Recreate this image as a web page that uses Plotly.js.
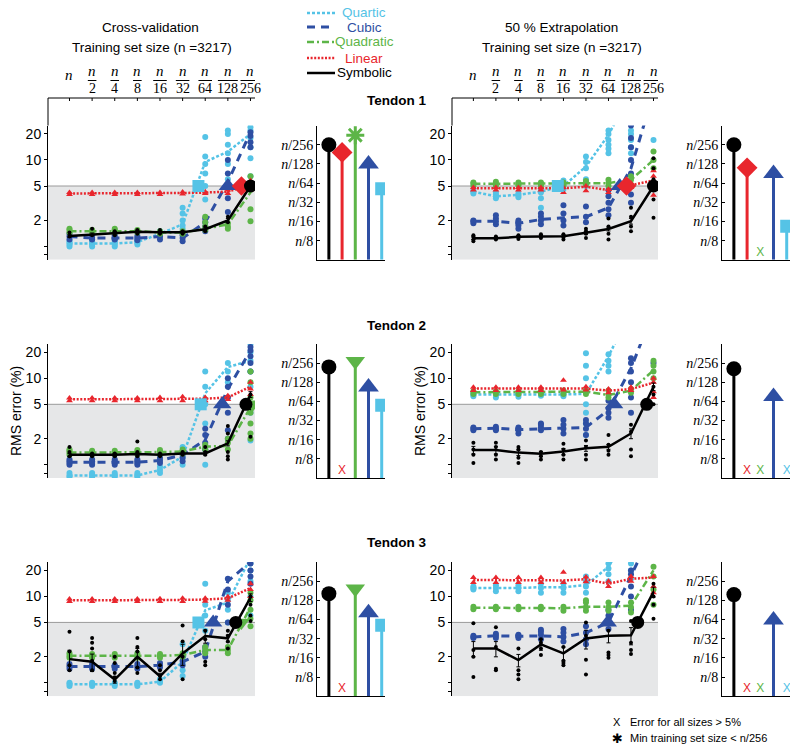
<!DOCTYPE html>
<html><head><meta charset="utf-8">
<script src="https://cdn.plot.ly/plotly-3.0.1.min.js"></script>
<style>html,body{margin:0;padding:0;background:#fff}#chart{width:800px;height:752px}</style>
</head><body><div id="chart"></div>
<script>
// ---------------- DATA ----------------
const sizeLabels = ['n','n/2','n/4','n/8','n/16','n/32','n/64','n/128','n/256'];
const sizeDenominators = ['', '2','4','8','16','32','64','128','256'];
const sizeIndex = [1,2,3,4,5,6,7,8,9];
const stemTickLabels = ['n/8','n/16','n/32','n/64','n/128','n/256'];
const stemModels = ['symbolic','linear','quadratic','cubic','quartic'];
const legendNames = ['Quartic','Cubic','Quadratic','Linear','Symbolic'];
const tendonNames = ['Tendon 1','Tendon 2','Tendon 3'];
const columnTitles = ['Cross-validation','50 % Extrapolation'];
const subTitle = 'Training set size (n =3217)';
const yTickVals = [0.8,1,2,5,10,20];
const yTickText = ['','','2','5','10','20'];
const errorLimit = 5;

// Tendon 1 - cross-validation
const cv1_quartic = [1.08,1.08,1.08,1.12,1.40,1.80,9.5,12.5,20];
const cv1_quartic_pts = [[1.0,1.05,1.1,1.15],[1.0,1.05,1.1,1.15],[1.0,1.05,1.12,1.18],[1.05,1.1,1.15,1.22],[1.3,1.38,1.45,1.5],[1.6,1.75,2.0,2.4,2.8],[3.5,5,7,9,11,18.5],[6,9,12,15,20,22],[6.5,10.5,14,18,22,24]];
const cv1_cubic = [1.30,1.25,1.25,1.25,1.30,1.25,1.9,5.6,21];
const cv1_cubic_pts = [[1.2,1.3,1.4],[1.2,1.25,1.35],[1.2,1.25,1.35],[1.18,1.25,1.32],[1.2,1.3,1.4],[1.15,1.25,1.35],[1.5,1.7,1.9,2.1],[2.5,3.6,5,7,10],[14,16,19,21]];
const cv1_quadratic = [1.5,1.5,1.5,1.5,1.45,1.45,1.6,1.8,4.2];
const cv1_quadratic_pts = [[1.45,1.55,1.6],[1.45,1.5,1.55],[1.45,1.55,1.6],[1.45,1.5,1.55],[1.4,1.45,1.5],[1.4,1.45,1.5],[1.55,1.7,1.9,2.2],[1.6,1.7,1.85],[1.95,2.7,4.5,5.5,6.5]];
const cv1_linear = [4.1,4.1,4.1,4.1,4.1,4.15,4.2,4.3,5.2];
const cv1_linear_pts = [[4.0,4.2],[4.0,4.2],[4.0,4.2],[4.0,4.2],[4.0,4.2],[4.05,4.25],[4.1,4.3],[4.1,4.5],[4.5,5.0,5.8]];
const cv1_symbolic = [1.32,1.38,1.42,1.48,1.46,1.46,1.58,2.0,5.0];
const cv1_symbolic_pts = [[1.3,1.45],[1.35,1.6],[1.35,1.5],[1.4,1.55],[1.4,1.55],[1.4,1.5],[1.5,1.7],[1.9,2.2],[4.5,5.5]];
const cv1_symbolic_err = [0.05,0.05,0.05,0.05,0.05,0.05,0.06,0.1,0.3];
const cv1_stem = [6,5.6,6.5,5,3.7];
const cv1_status = ['ok','ok','lt','ok','ok'];

// Tendon 1 - extrapolation
const ex1_quartic = [4.3,3.8,3.95,4.3,5.0,8.4,19.5,60,80];
const ex1_quartic_pts = [[4.1,4.3,4.5],[3.6,3.8,4.0,4.2],[3.7,3.9,4.1],[2.8,3.6,4.2,4.5],[4.6,5.0,5.4,5.8],[5.0,6,8,9.5,11],[12,13.5,15,17,20,22],[12,14,17,20,22],[17]];
const ex1_cubic = [1.95,1.95,1.85,2.05,2.15,2.2,2.8,8,60];
const ex1_cubic_pts = [[1.85,1.95,2.0],[1.8,1.95,2.1,2.3],[1.6,1.75,1.9,2.0],[1.8,2.0,2.2,2.4],[1.75,2.0,2.4,3.0],[1.9,2.2,2.9],[2.3,2.7,3.2,3.8,4.5],[3.2,4,7,10,14,18,25],[]];
const ex1_quadratic = [5.3,5.3,5.3,5.3,5.3,5.4,5.4,5.9,10];
const ex1_quadratic_pts = [[5.0,5.3,5.5],[5.0,5.3,5.6],[5.1,5.3,5.5],[5.0,5.3,5.5],[5.1,5.3,5.5],[5.2,5.5,5.7],[5.0,5.4,5.9],[5.2,5.9,6.5],[8,10,12.5]];
const ex1_linear = [4.7,4.7,4.7,4.7,4.7,4.9,4.5,5.1,5.8];
const ex1_linear_pts = [[4.5,4.8],[4.5,4.8],[4.5,4.8],[4.5,4.8],[4.2,4.8],[4.4,5.0],[4.2,4.6],[4.8,5.4],[3.9,5.0,6.5,7.5]];
const ex1_symbolic = [1.24,1.24,1.29,1.31,1.31,1.44,1.59,1.96,5.0];
const ex1_symbolic_pts = [[1.15,1.2,1.3,1.35],[1.2,1.25,1.3],[1.22,1.3,1.35],[1.25,1.32,1.38],[1.2,1.3,1.38],[1.25,1.4,1.5,1.6],[1.2,1.4,1.7,2.1],[1.5,1.7,2.2,2.8],[2.15,3.5,6,8,10.5]];
const ex1_symbolic_err = [0.04,0.04,0.04,0.04,0.05,0.06,0.08,0.15,0.4];
const ex1_stem = [6,4.8,null,4.5,1.75];
const ex1_status = ['ok','ok','x','ok','ok'];

// Tendon 2 - cross-validation
const cv2_quartic = [0.75,0.75,0.75,0.75,0.87,1.24,6.7,13.5,16];
const cv2_quartic_pts = [[0.72,0.75,0.8],[0.72,0.76,0.8],[0.72,0.76,0.8],[0.72,0.76,0.8],[0.8,0.87,0.95],[1.0,1.2,1.4,1.6],[1.0,1.5,3,5,8,12],[6,9,12,15],[1.9,4,8,12,16,20,25]];
const cv2_cubic = [1.07,1.07,1.07,1.07,1.12,1.3,1.94,7.5,21];
const cv2_cubic_pts = [[1.0,1.05,1.1,1.15],[1.0,1.05,1.1,1.15],[1.0,1.05,1.1,1.15],[1.0,1.05,1.1,1.15],[1.05,1.12,1.2],[1.1,1.2,1.3,1.4],[1.5,1.8,2.2,2.6],[2.0,2.5,4,6,8,10],[12,15,18,21,23]];
const cv2_quadratic = [1.38,1.38,1.38,1.4,1.4,1.42,1.62,1.65,4.6];
const cv2_quadratic_pts = [[1.3,1.38,1.45,1.5],[1.32,1.38,1.45],[1.32,1.38,1.45],[1.32,1.4,1.48],[1.32,1.4,1.48],[1.35,1.42,1.5],[1.5,1.6,1.7],[1.5,1.8,2.0],[2.0,2.3,3,4,6,9,12]];
const cv2_linear = [5.7,5.7,5.7,5.7,5.75,5.8,5.8,6.0,8.0];
const cv2_linear_pts = [[5.5,5.9],[5.5,5.9],[5.5,5.9],[5.5,5.9],[5.5,6.0],[5.5,6.1],[5.5,6.0],[5.7,6.3],[6.5,7.5,9]];
const cv2_symbolic = [1.3,1.3,1.3,1.33,1.3,1.35,1.35,1.77,6.5];
const cv2_symbolic_pts = [[1.25,1.4,1.6],[1.25,1.35],[1.25,1.35],[1.25,1.4,1.85],[1.25,1.35],[1.3,1.4],[1.3,1.4,1.6],[1.15,1.25,1.4,2.3,2.8],[2.1,4.5,6.5]];
const cv2_symbolic_err = [0.05,0.05,0.05,0.06,0.05,0.05,0.06,0.12,0.5];
const cv2_stem = [5.8,null,6.1,4.75,3.8];
const cv2_status = ['ok','x','ok','ok','ok'];

// Tendon 2 - extrapolation
const ex2_quartic = [6.5,6.5,6.4,6.5,6.5,6.6,18,60,80];
const ex2_quartic_pts = [[6.2,6.5,6.8],[6.0,6.4,6.8],[6.1,6.5,6.8],[6.3,6.6,6.8],[6.2,6.5,6.9],[2.2,3,4,5,7,10,14,19.5],[12,14,16,19],[],[]];
const ex2_cubic = [2.6,2.65,2.55,2.6,2.65,2.7,4.3,13,60];
const ex2_cubic_pts = [[2.5,2.6,2.7],[2.5,2.6,2.75],[2.3,2.5,2.6,2.7],[2.5,2.7,2.9,3.0],[2.3,2.6,2.9,3.3],[2.2,2.6,3.0,3.3],[3.5,4,4.5,5.5],[4.0,6,9,12,15,17],[15]];
const ex2_quadratic = [6.9,6.9,6.9,6.9,7.0,7.0,6.4,7.2,12.4];
const ex2_quadratic_pts = [[6.6,7.1],[6.6,7.1],[6.6,7.1],[6.6,7.1],[6.6,7.2],[6.6,7.3],[6.0,6.5,7.2],[6.8,7.5],[10,12,14,16]];
const ex2_linear = [7.6,7.6,7.5,7.5,7.6,7.6,7.2,7.5,8.9];
const ex2_linear_pts = [[7.2,7.9],[7.2,7.9],[7.2,7.9],[7.2,7.9],[7.3,9.5],[7.3,8.0],[6.8,7.5],[7.2,7.9],[6,7,9,10]];
const ex2_symbolic = [1.48,1.48,1.38,1.34,1.42,1.55,1.61,2.3,8.0];
const ex2_symbolic_pts = [[1.05,1.3,1.5,1.8],[1.15,1.3,1.6,1.8],[1.05,1.2,1.5,1.6],[1.15,1.25,1.4],[1.15,1.3,1.5,1.75],[1.15,1.3,1.6,1.9],[1.3,1.45,1.7,2.2],[1.25,1.5,2.4,2.9],[5,6.5,8]];
const ex2_symbolic_err = [0.15,0.15,0.1,0.08,0.12,0.12,0.1,0.3,0.8];
const ex2_stem = [5.7,null,null,4.25,null];
const ex2_status = ['ok','x','x','ok','x'];

// Tendon 3 - cross-validation
const cv3_quartic = [0.96,0.96,0.96,0.96,1.03,1.75,6.9,8.5,28];
const cv3_quartic_pts = [[0.92,0.97,1.0],[0.92,0.97,1.0],[0.92,0.97,1.0],[0.92,0.97,1.0],[1.0,1.05,1.1],[1.2,1.4,1.7,2.0,2.8],[2.5,4,6,8,14],[5,7,9,11],[6,10,15,20,24]];
const cv3_cubic = [1.54,1.54,1.54,1.54,1.6,1.75,2.3,15,25];
const cv3_cubic_pts = [[1.45,1.55,1.65],[1.45,1.55,1.65],[1.45,1.55,1.6],[1.45,1.55,1.65],[1.5,1.6,1.7],[1.6,1.8,2.0],[2.0,2.3,2.6],[5,8,12,16],[14,17,20,24]];
const cv3_quadratic = [2.05,2.05,2.05,2.05,2.05,2.1,2.4,2.4,7.5];
const cv3_quadratic_pts = [[1.95,2.05,2.2],[1.95,2.05,2.15],[1.95,2.05,2.15],[1.95,2.05,2.2],[1.95,2.05,2.15],[2.0,2.1,2.2],[2.2,2.4,2.6],[2.2,2.4,2.6],[4.5,5.5,7,9,11]];
const cv3_linear = [9,9,9,9,9.1,9.1,9.2,9.5,12.5];
const cv3_linear_pts = [[8.7,9.3],[8.7,9.3],[8.7,9.3],[8.7,9.3],[8.7,9.4],[8.7,9.5],[8.8,9.5],[9.0,9.9],[10,12,14]];
const cv3_symbolic = [1.88,1.75,1.09,2.0,1.19,2.19,3.47,3.27,9.7];
const cv3_symbolic_pts = [[1.4,1.6,2.3,3.9],[1.4,1.8,2.5,2.9,3.3],[1.05,1.15,1.3,1.7,2.0],[1.3,1.5,2.3,2.6,3.3],[1.1,1.2,1.4,1.6],[1.1,2.0,3.0,4.6],[1.6,1.75,3.2,4.0],[2.5,3.0,3.5,4.0],[5.2,6,8,10]];
const cv3_symbolic_err = [0.5,0.4,0.1,0.5,0.1,0.6,0.6,0.3,1.0];
const cv3_stem = [5.35,null,5.6,4.35,3.7];
const cv3_status = ['ok','x','ok','ok','ok'];

// Tendon 3 - extrapolation
const ex3_quartic = [12.5,12.5,12.5,12.8,12.8,13.5,22,60,80];
const ex3_quartic_pts = [[12,12.5,13],[11.5,12.5,13.5],[11.5,12.5,13.5],[11,12.5,14],[11,12.5,14],[11,13,15,17],[15,18,21,24],[16,20,24],[]];
const ex3_cubic = [3.4,3.5,3.45,3.5,3.4,3.8,5.0,18,60];
const ex3_cubic_pts = [[3.3,3.4,3.5],[3.3,3.5,3.7],[3.3,3.5,3.6],[3.2,3.6,3.9,4.1],[3.0,3.4,3.8,4.2],[2.8,3.2,3.8,4.5],[4.2,5,6,7],[7,10,13,18,20],[]];
const ex3_quadratic = [7.4,7.4,7.4,7.4,7.3,7.6,7.6,7.8,20];
const ex3_quadratic_pts = [[7.1,7.6],[7.1,7.6],[7.1,7.6],[7.1,7.6],[6.8,7.6],[6.8,7.5,8.5,9],[6.8,7.5,8.5],[6.5,7.5,8.5],[8,12,17,22]];
const ex3_linear = [15.5,15.5,15.3,15.3,15.3,15.8,14,16,16.5];
const ex3_linear_pts = [[14.5,16.5],[14.5,16.5],[14.5,16.5],[14.5,16.5],[14.5,19],[14.8,16.8],[13,15],[15,17],[11,13,17]];
const ex3_symbolic = [2.5,2.5,1.83,2.78,2.19,3.26,3.5,3.55,11.3];
const ex3_symbolic_pts = [[1.17,2.0,2.4,4.9],[1.4,1.45,2.6,4.4],[1.1,1.25,1.4,2.5],[2.1,2.5,2.9,3.2],[1.6,1.7,1.8,2.6],[1.25,1.85,3.5,5.0],[1.95,2.1,2.25,4.0],[2.15,2.4,2.9,5.2],[5.5,8,10,14]];
const ex3_symbolic_err = [0.5,0.5,0.3,0.4,0.4,0.8,0.6,0.8,1.5];
const ex3_stem = [5.3,null,null,3.97,null];
const ex3_status = ['ok','x','x','ok','x'];

// ---------------- STYLE / GEOMETRY ----------------
const W = 800, H = 752;
const px = x => x / W, py = y => 1 - y / H;
const COL = {quartic:'#55C3E6', cubic:'#2E4FA3', quadratic:'#5DB548', linear:'#E8262D', symbolic:'#000000'};
const DASH = {quartic:'3px,2px', cubic:'8px,6px', quadratic:'7px,3px,2px,3px', linear:'2px,1.6px', symbolic:'solid'};
const LW = {quartic:2.5, cubic:3, quadratic:2.5, linear:2.5, symbolic:2.5};
const drawOrder = ['quartic','cubic','quadratic','linear','symbolic'];
const xRange = [0.05, 9.2];
const yRange = [Math.log10(0.7), Math.log10(25)];
const colX = [[48,255],[452,658]];
const rowY = [[125.6,259.8],[343.9,478.1],[562,696.2]];
const stemX = [[317,385],[722,790]];
const stemRange = [0.1, 5.25];
const SERIF = 'Liberation Serif, DejaVu Serif, serif';
const SANS = 'Liberation Sans, Arial, Helvetica, sans-serif';

const panels = [
  {mean:{quartic:cv1_quartic,cubic:cv1_cubic,quadratic:cv1_quadratic,linear:cv1_linear,symbolic:cv1_symbolic},
   pts:{quartic:cv1_quartic_pts,cubic:cv1_cubic_pts,quadratic:cv1_quadratic_pts,linear:cv1_linear_pts,symbolic:cv1_symbolic_pts},
   err:cv1_symbolic_err, stem:cv1_stem, status:cv1_status},
  {mean:{quartic:ex1_quartic,cubic:ex1_cubic,quadratic:ex1_quadratic,linear:ex1_linear,symbolic:ex1_symbolic},
   pts:{quartic:ex1_quartic_pts,cubic:ex1_cubic_pts,quadratic:ex1_quadratic_pts,linear:ex1_linear_pts,symbolic:ex1_symbolic_pts},
   err:ex1_symbolic_err, stem:ex1_stem, status:ex1_status},
  {mean:{quartic:cv2_quartic,cubic:cv2_cubic,quadratic:cv2_quadratic,linear:cv2_linear,symbolic:cv2_symbolic},
   pts:{quartic:cv2_quartic_pts,cubic:cv2_cubic_pts,quadratic:cv2_quadratic_pts,linear:cv2_linear_pts,symbolic:cv2_symbolic_pts},
   err:cv2_symbolic_err, stem:cv2_stem, status:cv2_status},
  {mean:{quartic:ex2_quartic,cubic:ex2_cubic,quadratic:ex2_quadratic,linear:ex2_linear,symbolic:ex2_symbolic},
   pts:{quartic:ex2_quartic_pts,cubic:ex2_cubic_pts,quadratic:ex2_quadratic_pts,linear:ex2_linear_pts,symbolic:ex2_symbolic_pts},
   err:ex2_symbolic_err, stem:ex2_stem, status:ex2_status},
  {mean:{quartic:cv3_quartic,cubic:cv3_cubic,quadratic:cv3_quadratic,linear:cv3_linear,symbolic:cv3_symbolic},
   pts:{quartic:cv3_quartic_pts,cubic:cv3_cubic_pts,quadratic:cv3_quadratic_pts,linear:cv3_linear_pts,symbolic:cv3_symbolic_pts},
   err:cv3_symbolic_err, stem:cv3_stem, status:cv3_status},
  {mean:{quartic:ex3_quartic,cubic:ex3_cubic,quadratic:ex3_quadratic,linear:ex3_linear,symbolic:ex3_symbolic},
   pts:{quartic:ex3_quartic_pts,cubic:ex3_cubic_pts,quadratic:ex3_quadratic_pts,linear:ex3_linear_pts,symbolic:ex3_symbolic_pts},
   err:ex3_symbolic_err, stem:ex3_stem, status:ex3_status}
];

const MAIN_SYM = {symbolic:['circle',13], linear:['diamond',15], quadratic:['triangle-down',15], cubic:['triangle-up',16], quartic:['square',12]};
const STEM_SYM = {symbolic:['circle',15], linear:['diamond',16], quadratic:['triangle-down',17], cubic:['triangle-up',18], quartic:['square',13]};

// stem level k  ->  position on the training size axis (n/8 is index 4 and level 1)
const levelToIndex = k => k + 3;

function flatten(pts){
  const x=[], y=[];
  pts.forEach((arr,i)=>arr.forEach(v=>{x.push(sizeIndex[i]); y.push(v);}));
  return {x,y};
}
const sfx = i => (i===1 ? '' : String(i));

const traces = [];
const layout = {
  width:W, height:H, margin:{l:0,r:0,t:0,b:0},
  paper_bgcolor:'#ffffff', plot_bgcolor:'rgba(0,0,0,0)', showlegend:false,
  font:{family:SANS, size:13, color:'#000'},
  shapes:[], annotations:[]
};

panels.forEach((P,p)=>{
  const r = Math.floor(p/2), c = p%2;
  const mi = p+1, si = p+7;
  const xa = 'x'+sfx(mi), ya = 'y'+sfx(mi);
  const sxa = 'x'+sfx(si), sya = 'y'+sfx(si);

  layout['xaxis'+sfx(mi)] = {domain:[px(colX[c][0]),px(colX[c][1])], range:xRange, visible:false, anchor:ya, fixedrange:true};
  layout['yaxis'+sfx(mi)] = {domain:[py(rowY[r][1]),py(rowY[r][0])], type:'log', range:yRange, anchor:xa,
    showline:true, linecolor:'#000', linewidth:1, tickvals:yTickVals, ticktext:yTickText,
    ticks:'outside', ticklen:3, tickcolor:'#000', showgrid:false, zeroline:false,
    tickfont:{size:14, family:SANS}, fixedrange:true};
  layout['xaxis'+sfx(si)] = {domain:[px(stemX[c][0]),px(stemX[c][1])], range:stemRange, anchor:sya,
    showline:true, linecolor:'#000', linewidth:1, showticklabels:false, ticks:'', showgrid:false, zeroline:false, fixedrange:true};
  layout['yaxis'+sfx(si)] = {domain:[py(rowY[r][1]),py(rowY[r][0])], range:[0,7], anchor:sxa,
    showline:true, linecolor:'#000', linewidth:1, tickvals:[1,2,3,4,5,6],
    ticktext:stemTickLabels.map(s=>'<i>n</i>/'+s.split('/')[1]),
    ticks:'inside', ticklen:3, tickcolor:'#000', showgrid:false, zeroline:false,
    tickfont:{family:SERIF, size:14}, fixedrange:true};

  // grey "below 5%" region and 5% line
  traces.push({type:'scatter', mode:'lines', xaxis:xa, yaxis:ya, hoverinfo:'skip',
    x:[xRange[0],xRange[1],xRange[1],xRange[0]], y:[Math.pow(10,yRange[0]),Math.pow(10,yRange[0]),errorLimit,errorLimit],
    fill:'toself', fillcolor:'#E6E7E8', line:{width:0}});
  traces.push({type:'scatter', mode:'lines', xaxis:xa, yaxis:ya, hoverinfo:'skip',
    x:[xRange[0],xRange[1]], y:[errorLimit,errorLimit], line:{color:'#9a9a9a', width:1}});

  drawOrder.forEach(m=>{
    const f = flatten(P.pts[m]);
    traces.push({type:'scatter', mode:'markers', xaxis:xa, yaxis:ya, hoverinfo:'skip', x:f.x, y:f.y,
      marker:{color:COL[m], size: m==='symbolic'?4:(m==='linear'?6:6), symbol: m==='linear'?'triangle-up':'circle', line:{width:0}}});
    const t = {type:'scatter', mode:'lines', xaxis:xa, yaxis:ya, hoverinfo:'skip', x:sizeIndex, y:P.mean[m],
      line:{color:COL[m], width:LW[m], dash:DASH[m]}};
    if(m==='symbolic') t.error_y = {type:'data', array:P.err, visible:true, color:'#000', thickness:1, width:2};
    traces.push(t);
  });

  // crossing markers on the main panel
  stemModels.slice().reverse().forEach(m=>{
    const j = stemModels.indexOf(m);
    const k = P.stem[j];
    if(k===null || P.status[j]!=='ok') return;
    traces.push({type:'scatter', mode:'markers', xaxis:xa, yaxis:ya, hoverinfo:'skip',
      x:[levelToIndex(k)], y:[errorLimit], marker:{color:COL[m], symbol:MAIN_SYM[m][0], size:MAIN_SYM[m][1], line:{width:0}}});
  });

  // stem panel
  stemModels.forEach((m,j)=>{
    const k = P.stem[j];
    if(k===null){
      traces.push({type:'scatter', mode:'text', xaxis:sxa, yaxis:sya, hoverinfo:'skip', x:[j+1], y:[0.38], text:['X'],
        textfont:{color:COL[m], size:12, family:SANS}});
      return;
    }
    traces.push({type:'scatter', mode:'lines', xaxis:sxa, yaxis:sya, hoverinfo:'skip', x:[j+1,j+1], y:[0,k],
      line:{color:COL[m], width:3}});
    if(P.status[j]==='lt'){
      traces.push({type:'scatter', mode:'markers', xaxis:sxa, yaxis:sya, hoverinfo:'skip', x:[j+1], y:[k],
        marker:{symbol:'asterisk-open', size:15, line:{color:COL[m], width:3}, color:COL[m]}});
    } else {
      traces.push({type:'scatter', mode:'markers', xaxis:sxa, yaxis:sya, hoverinfo:'skip', x:[j+1], y:[k],
        marker:{color:COL[m], symbol:STEM_SYM[m][0], size:STEM_SYM[m][1], line:{width:0}}});
    }
  });

  // top training-size axis for the first row
  if(r===0){
    const topY = 98;
    layout.shapes.push({type:'line', xref:xa+' domain', yref:'paper', x0:0, x1:1, y0:py(topY), y1:py(topY), line:{color:'#000', width:1}});
    layout.shapes.push({type:'line', xref:xa+' domain', yref:'paper', x0:0, x1:0, y0:py(topY), y1:py(rowY[0][0]), line:{color:'#000', width:1}});
    sizeIndex.forEach((xi,i)=>{
      layout.shapes.push({type:'line', xref:xa, yref:'paper', x0:xi, x1:xi, y0:py(topY), y1:py(topY+3), line:{color:'#000', width:1}});
      const den = sizeDenominators[i];
      if(den===''){
        layout.annotations.push({xref:xa, yref:'paper', x:xi, y:py(75), text:'<i>n</i>', showarrow:false,
          font:{family:SERIF, size:15}, xanchor:'center', yanchor:'middle'});
      } else {
        layout.annotations.push({xref:xa, yref:'paper', x:xi, y:py(71), text:'<i>n</i>', showarrow:false,
          font:{family:SERIF, size:15}, xanchor:'center', yanchor:'middle'});
        layout.annotations.push({xref:xa, yref:'paper', x:xi, y:py(89), text:den, showarrow:false,
          font:{family:SERIF, size:14}, xanchor:'center', yanchor:'middle'});
        const hw = den.length===1 ? 0.19 : (den.length===2 ? 0.3 : 0.44);
        layout.shapes.push({type:'line', xref:xa, yref:'paper', x0:xi-hw, x1:xi+hw, y0:py(80.5), y1:py(80.5), line:{color:'#000', width:1}});
      }
    });
  }
});

// column titles
[[150,columnTitles[0]],[561,columnTitles[1]]].forEach(([x,t])=>{
  layout.annotations.push({xref:'paper', yref:'paper', x:px(x), y:py(27), text:t, showarrow:false, font:{size:13.5}, xanchor:'center', yanchor:'middle'});
});
[152,562].forEach(x=>{
  layout.annotations.push({xref:'paper', yref:'paper', x:px(x), y:py(48), text:subTitle, showarrow:false, font:{size:13.5}, xanchor:'center', yanchor:'middle'});
});
// tendon labels
[101,325,542].forEach((y,i)=>{
  layout.annotations.push({xref:'paper', yref:'paper', x:px(396), y:py(y), text:'<b>'+tendonNames[i]+'</b>', showarrow:false, font:{size:13.5}, xanchor:'center', yanchor:'middle'});
});
// y titles
[16,420].forEach(x=>{
  layout.annotations.push({xref:'paper', yref:'paper', x:px(x), y:py(411), text:'RMS error (%)', textangle:-90, showarrow:false, font:{size:14}, xanchor:'center', yanchor:'middle'});
});

// top legend
const legendRows = [13,27,42,58,73];
const legendLen = [28,23,28,28,28];
drawOrder.forEach((m,i)=>{
  const y = legendRows[i];
  layout.shapes.push({type:'line', xref:'paper', yref:'paper', x0:px(307), x1:px(307+legendLen[i]), y0:py(y), y1:py(y),
    line:{color:COL[m], width:LW[m], dash:DASH[m]}});
  layout.annotations.push({xref:'paper', yref:'paper', x:px(364), y:py(y), text:legendNames[i], showarrow:false,
    font:{size:13.5, color:COL[m]}, xanchor:'center', yanchor:'middle'});
});

// bottom key
layout.annotations.push({xref:'paper', yref:'paper', x:px(617), y:py(722), text:'X', showarrow:false, font:{size:11}, xanchor:'center', yanchor:'middle'});
layout.annotations.push({xref:'paper', yref:'paper', x:px(628), y:py(722), text:'Error for all sizes &gt; 5%', showarrow:false, font:{size:11}, xanchor:'left', yanchor:'middle'});
layout.annotations.push({xref:'paper', yref:'paper', x:px(617), y:py(738), text:'✱', showarrow:false, font:{size:13, family:'DejaVu Sans'}, xanchor:'center', yanchor:'middle'});
layout.annotations.push({xref:'paper', yref:'paper', x:px(628), y:py(738), text:'Min training set size &lt; n/256', showarrow:false, font:{size:11}, xanchor:'left', yanchor:'middle'});

Plotly.newPlot('chart', traces, layout, {staticPlot:true, displayModeBar:false});
</script></body></html>
